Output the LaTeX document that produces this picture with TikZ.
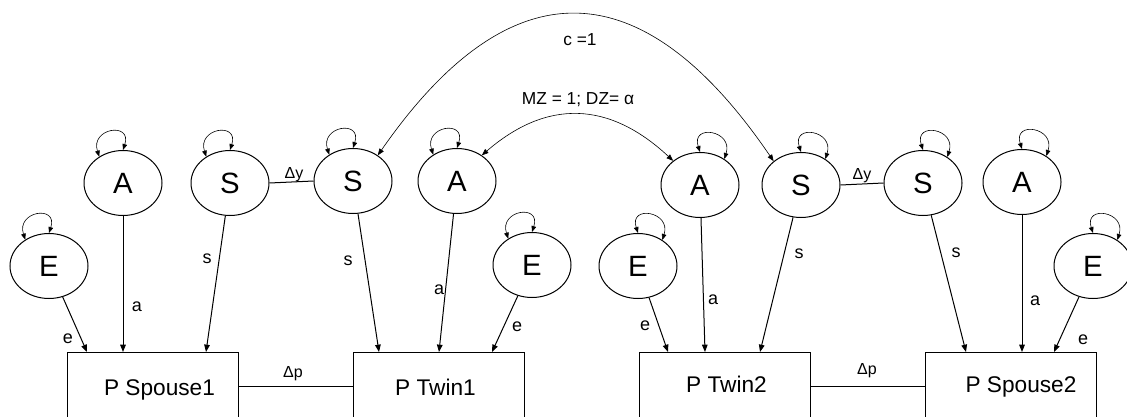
\documentclass[tikz,border=0pt]{standalone}
\usepackage{fontspec}
\setmainfont{Liberation Sans}
\usetikzlibrary{arrows.meta,shapes.geometric}
\begin{document}
\begin{tikzpicture}[x=0.75pt,y=-0.75pt,
  lat/.style={draw,ellipse,line width=0.75pt,minimum width=58.5pt,minimum height=48.75pt,inner sep=0pt,font=\fontsize{22}{26}\selectfont},
  obs/.style={draw,rectangle,line width=0.75pt,minimum width=128.25pt,minimum height=51pt,inner sep=0pt},
  boxtext/.style={anchor=base,inner sep=0pt,font=\fontsize{17}{20}\selectfont},
  edgearr/.style={line width=0.75pt,-{Triangle[length=5.5pt,width=4.2pt]}},
  plainln/.style={line width=0.75pt},
  loopst/.style={line width=0.45pt,{Triangle[length=4.5pt,width=3.5pt]}-{Triangle[length=4.5pt,width=3.5pt]}},
  covst/.style={line width=0.45pt,{Triangle[length=5pt,width=3.8pt]}-{Triangle[length=5pt,width=3.8pt]}},
  lab/.style={anchor=base,inner sep=0pt,font=\fontsize{13.5}{16}\selectfont},
  dlab/.style={anchor=base,inner sep=0pt,font=\fontsize{12}{14}\selectfont},
  tlab/.style={anchor=base,inner sep=0pt,font=\fontsize{13}{16}\selectfont},
]
\useasboundingbox (0,0) rectangle (1127,417);
\clip (0,0) rectangle (1127,417);

% latent nodes
\node[lat] (E1) at (49,266) {E};
\node[lat] (A1) at (123,183) {A};
\node[lat] (S1) at (230,183) {S};
\node[lat] (S2) at (353,181) {S};
\node[lat] (A2) at (457,181) {A};
\node[lat] (E2) at (532,265) {E};
\node[lat] (E3) at (638,266) {E};
\node[lat] (A3) at (700,185) {A};
\node[lat] (S3) at (801,185) {S};
\node[lat] (S4) at (923,183) {S};
\node[lat] (A4) at (1022,182) {A};
\node[lat] (E4) at (1093,266) {E};

% observed boxes
\node[obs] (P1) at (152.5,386) {};
\node[obs] (P2) at (439,386) {};
\node[obs] (P3) at (725,386) {};
\node[obs] (P4) at (1011,386) {};
\node[boxtext] (P1t) at (159.5,395) {P Spouse1};
\node[boxtext] (P2t) at (435.5,395) {P Twin1};
\node[boxtext] (P3t) at (726.5,392) {P Twin2};
\node[boxtext] (P4t) at (1021,392) {P Spouse2};

% arrow end points on box tops
\coordinate (P1e) at (87,352);
\coordinate (P1a) at (123,352);
\coordinate (P1s) at (206,352);
\coordinate (P2s) at (379,352);
\coordinate (P2a) at (439,352);
\coordinate (P2e) at (492,352);
\coordinate (P3e) at (668,352);
\coordinate (P3a) at (705,352);
\coordinate (P3s) at (760,352);
\coordinate (P4s) at (966,352);
\coordinate (P4a) at (1022,352);
\coordinate (P4e) at (1054,352);

\draw[edgearr] (E1) -- (P1e);
\draw[edgearr] (A1) -- (P1a);
\draw[edgearr] (S1) -- (P1s);
\draw[edgearr] (S2) -- (P2s);
\draw[edgearr] (A2) -- (P2a);
\draw[edgearr] (E2) -- (P2e);
\draw[edgearr] (E3) -- (P3e);
\draw[edgearr] (A3) -- (P3a);
\draw[edgearr] (S3) -- (P3s);
\draw[edgearr] (S4) -- (P4s);
\draw[edgearr] (A4) -- (P4a);
\draw[edgearr] (E4) -- (P4e);

% path labels
\node[lab] (le1) at (68,343) {e};
\node[lab] (la1) at (137,311) {a};
\node[lab] (ls1) at (207,263) {s};
\node[lab] (ls2) at (348,265) {s};
\node[lab] (la2) at (439,294) {a};
\node[lab] (le2) at (517,331) {e};
\node[lab] (le3) at (645,330) {e};
\node[lab] (la3) at (713,304) {a};
\node[lab] (ls3) at (799,258) {s};
\node[lab] (ls4) at (956,257) {s};
\node[lab] (la4) at (1035,305) {a};
\node[lab] (le4) at (1083,344) {e};

% spouse links
\draw[plainln] (S1.east) -- (S2.west);
\draw[plainln] (S3.east) -- (S4.west);
\draw[plainln] (P1.east) -- (P2.west);
\draw[plainln] (P3.east) -- (P4.west);
\node[dlab] (dy1) at (294,179) {Δy};
\node[dlab] (dy2) at (862,180) {Δy};
\node[dlab] (dp1) at (293,377) {Δp};
\node[dlab] (dp2) at (867,374) {Δp};

% twin covariances
\draw[covst] (S2.46) .. controls (510,-35) and (642,-32) .. (S3.139);
\draw[covst] (A2.46) .. controls (547,99) and (609,101) .. (A3.138);
\node[tlab] (lc) at (580,46) {c =1};
\node[tlab] (lmz) at (578,105) {MZ = 1; DZ= α};

% variance loops (left type)
\foreach \n in {E1,A1,S1,S2,A2,E2}{
  \draw[loopst] (\n.132) .. controls +(-108:30) and +(-72:30) .. (\n.90);
}
% variance loops (right type)
\foreach \n in {E3,A3,S3,S4,A4,E4}{
  \draw[loopst] (\n.90) .. controls +(-108:30) and +(-72:30) .. (\n.47);
}
\end{tikzpicture}
\end{document}
